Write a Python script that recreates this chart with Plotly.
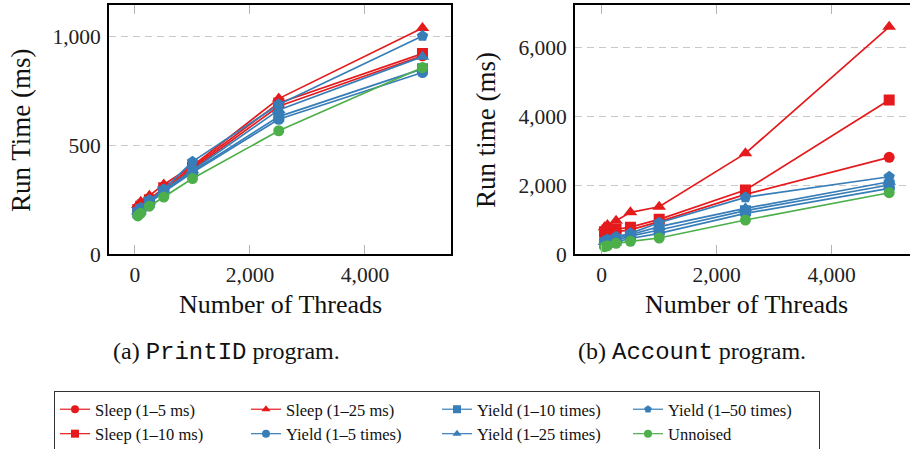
import plotly.graph_objects as go

W, H = 910, 449

threads = [50, 100, 250, 500, 1000, 2500, 5000]

series_names = [
    "Sleep (1–5 ms)", "Sleep (1–10 ms)", "Sleep (1–25 ms)",
    "Yield (1–5 times)", "Yield (1–10 times)", "Yield (1–25 times)",
    "Yield (1–50 times)", "Unnoised",
]

printid_sleep5 = [200, 215, 245, 295, 390, 680, 912]
printid_sleep10 = [205, 220, 250, 305, 398, 695, 922]
printid_sleep25 = [225, 240, 268, 320, 405, 715, 1040]
printid_yield5 = [185, 200, 235, 285, 375, 620, 835]
printid_yield10 = [190, 205, 238, 288, 380, 632, 852]
printid_yield25 = [195, 210, 242, 292, 385, 663, 908]
printid_yield50 = [200, 212, 248, 298, 425, 688, 1003]
printid_unnoised = [175, 188, 220, 262, 347, 567, 858]

account_sleep5 = [550, 600, 650, 700, 940, 1735, 2811]
account_sleep10 = [650, 700, 720, 780, 1008, 1860, 4477]
account_sleep25 = [780, 843, 969, 1212, 1375, 2927, 6608]
account_yield5 = [280, 300, 350, 450, 600, 1180, 1910]
account_yield10 = [320, 350, 400, 520, 698, 1260, 2006]
account_yield25 = [350, 380, 450, 560, 795, 1328, 2102]
account_yield50 = [380, 420, 500, 600, 910, 1648, 2247]
account_unnoised = [213, 240, 310, 368, 465, 988, 1782]

printid = [printid_sleep5, printid_sleep10, printid_sleep25, printid_yield5,
           printid_yield10, printid_yield25, printid_yield50, printid_unnoised]
account = [account_sleep5, account_sleep10, account_sleep25, account_yield5,
           account_yield10, account_yield25, account_yield50, account_unnoised]

RED, BLUE, GREEN = "#e41a1c", "#377eb8", "#4daf4a"
colors = [RED, RED, RED, BLUE, BLUE, BLUE, BLUE, GREEN]
symbols = ["circle", "square", "triangle-up", "circle", "square", "triangle-up",
           "pentagon", "circle"]
sizes = [11, 11, 12, 11, 11, 12, 12, 11]

legend_order = [0, 2, 4, 6, 1, 3, 5, 7]

x_ticks = [0, 2000, 4000]
printid_y_ticks = [0, 500, 1000]
account_y_ticks = [0, 2000, 4000, 6000]

SERIF = "Liberation Serif"

fig = go.Figure()

for i in range(8):
    fig.add_trace(go.Scatter(
        x=threads, y=printid[i], mode="lines+markers", xaxis="x", yaxis="y",
        line=dict(color=colors[i], width=1.7),
        marker=dict(symbol=symbols[i], size=sizes[i], color=colors[i], line=dict(width=0)),
        showlegend=False, name=series_names[i]))
for i in range(8):
    fig.add_trace(go.Scatter(
        x=threads, y=account[i], mode="lines+markers", xaxis="x2", yaxis="y2",
        line=dict(color=colors[i], width=1.7),
        marker=dict(symbol=symbols[i], size=sizes[i], color=colors[i], line=dict(width=0)),
        showlegend=False, name=series_names[i]))

# legend entries (legend only)
for i in legend_order:
    fig.add_trace(go.Scatter(
        x=[None], y=[None], mode="lines+markers", xaxis="x", yaxis="y",
        line=dict(color=colors[i], width=1.2),
        marker=dict(symbol=symbols[i], size=8, color=colors[i], line=dict(width=0)),
        name=series_names[i], showlegend=True))

ydom = [(H - 254) / H, (H - 4.7) / H]

xcommon = dict(
    tickvals=x_ticks, tickformat=",", ticks="inside", ticklen=9, tickwidth=1,
    tickcolor="#b4b4b4", showline=True, linecolor="black", linewidth=1.7,
    showgrid=False, zeroline=False, mirror="ticks",
    tickfont=dict(family=SERIF, size=21.5, color="#222"),
)
ycommon = dict(
    ticks="", showline=True, linecolor="black", linewidth=1.7,
    showgrid=True, gridcolor="#c8c8c8", gridwidth=1, griddash="7px,5px",
    zeroline=False, tickformat=",", ticklabelstandoff=2,
    tickfont=dict(family=SERIF, size=21.5, color="#222"),
)

fig.update_layout(
    width=W, height=H,
    margin=dict(l=0, r=0, t=0, b=0, autoexpand=False),
    paper_bgcolor="white", plot_bgcolor="white",
    xaxis=dict(domain=[109 / W, 451 / W], range=[-452, 5496], anchor="y", **xcommon),
    yaxis=dict(domain=ydom, range=[0, 1147], tickvals=printid_y_ticks, anchor="x",
               mirror=True, **ycommon),
    xaxis2=dict(domain=[575 / W, 1.0], range=[-464, 5362], anchor="y2", **xcommon),
    yaxis2=dict(domain=ydom, range=[0, 7250], tickvals=account_y_ticks, anchor="x2",
                mirror=False, **ycommon),
    showlegend=True,
    legend=dict(
        orientation="h", x=54 / W, xanchor="left", y=(H - 391) / H, yanchor="top",
        entrywidth=146, entrywidthmode="pixels", itemwidth=30,
        bordercolor="#333", borderwidth=1, bgcolor="white",
        font=dict(family=SERIF, size=16.5, color="#111"),
        traceorder="normal",
    ),
)

def ann(text, x, y, size, angle=0):
    fig.add_annotation(text=text, x=x / W, y=(H - y) / H, xref="paper", yref="paper",
                       showarrow=False, xanchor="center", yanchor="middle",
                       textangle=angle, font=dict(family=SERIF, size=size, color="#111"))

ann("Run Time (ms)", 21, 130, 27, -90)
ann("Run time (ms)", 486, 130, 27, -90)
ann("Number of Threads", 280, 305, 26)
ann("Number of Threads", 746, 305, 26)
ann('(a) <span style="font-family:Liberation Mono">PrintID</span> program.', 226, 352, 24)
ann('(b) <span style="font-family:Liberation Mono">Account</span> program.', 692, 352, 24)

fig.write_html("out.html")
